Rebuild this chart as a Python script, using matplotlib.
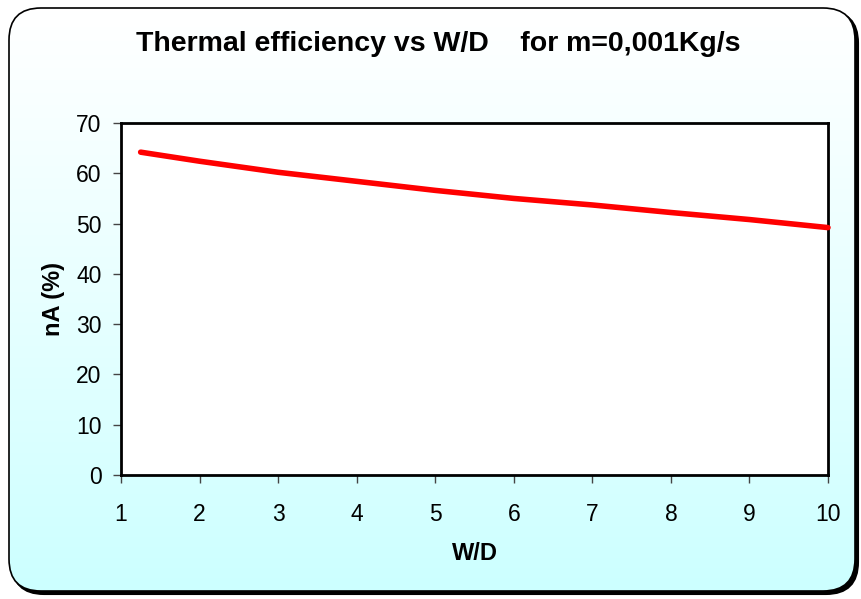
import numpy as np
import matplotlib
matplotlib.use("Agg")
import matplotlib.pyplot as plt
from matplotlib.patches import FancyBboxPatch
from matplotlib.colors import LinearSegmentedColormap

plt.rcParams['font.family'] = ['Liberation Sans', 'DejaVu Sans']

# W/D ratio and thermal efficiency (%)
wd = [1.25, 2, 3, 4, 5, 6, 7, 8, 9, 10]
efficiency = [64.2, 62.4, 60.2, 58.4, 56.6, 55.0, 53.7, 52.2, 50.8, 49.2]

x_ticks = [1, 2, 3, 4, 5, 6, 7, 8, 9, 10]
y_ticks = [0, 10, 20, 30, 40, 50, 60, 70]

W, H = 861, 599
fig = plt.figure(figsize=(W / 100, H / 100), dpi=100)
fig.patch.set_facecolor("white")

# background panel in pixel coordinates
bg = fig.add_axes([0, 0, 1, 1])
bg.set_xlim(0, W)
bg.set_ylim(H, 0)
bg.axis("off")

shadow = FancyBboxPatch((12, 11), 846, 583, boxstyle="round,pad=0,rounding_size=32",
                        facecolor="black", edgecolor="black", lw=1.5)
bg.add_patch(shadow)
frame = FancyBboxPatch((9, 8), 846, 583, boxstyle="round,pad=0,rounding_size=32",
                       facecolor="none", edgecolor="black", lw=1.2, zorder=3)
bg.add_patch(frame)

cmap = LinearSegmentedColormap.from_list("panel", ["#ffffff", "#ccffff"])
grad = np.linspace(0, 1, 256).reshape(-1, 1) ** 1.1
img = bg.imshow(grad, cmap=cmap, extent=[9, 855, 591, 8], aspect="auto", zorder=2)
img.set_clip_path(FancyBboxPatch((9, 8), 846, 583, boxstyle="round,pad=0,rounding_size=32",
                                 transform=bg.transData))
bg.set_xlim(0, W)
bg.set_ylim(H, 0)

bg.text(438, 44, "Thermal efficiency vs W/D    for m=0,001Kg/s", ha="center", va="center",
        fontsize=20.5, fontweight="bold", zorder=4)

ax = fig.add_axes([121 / W, 1 - 475 / H, (828 - 121) / W, (475 - 123) / H])
ax.set_facecolor("white")
ax.plot(wd, efficiency, color="#ff0000", lw=4, solid_capstyle="round", clip_on=False, zorder=3)

ax.set_xlim(1, 10)
ax.set_ylim(0, 70)
ax.set_xticks(x_ticks)
ax.set_yticks(y_ticks)
ax.tick_params(direction="out", length=6, width=1, colors="#444444", labelcolor="black",
               labelsize=16.5)
ax.tick_params(axis="x", pad=14)
ax.tick_params(axis="y", pad=8)
for s in ax.spines.values():
    s.set_linewidth(2)
    s.set_color("black")

ax.set_xlabel("W/D", fontsize=17, fontweight="bold", labelpad=12)
ax.set_ylabel("nA (%)", fontsize=17, fontweight="bold", labelpad=8)

fig.savefig("out.png", dpi=100)
